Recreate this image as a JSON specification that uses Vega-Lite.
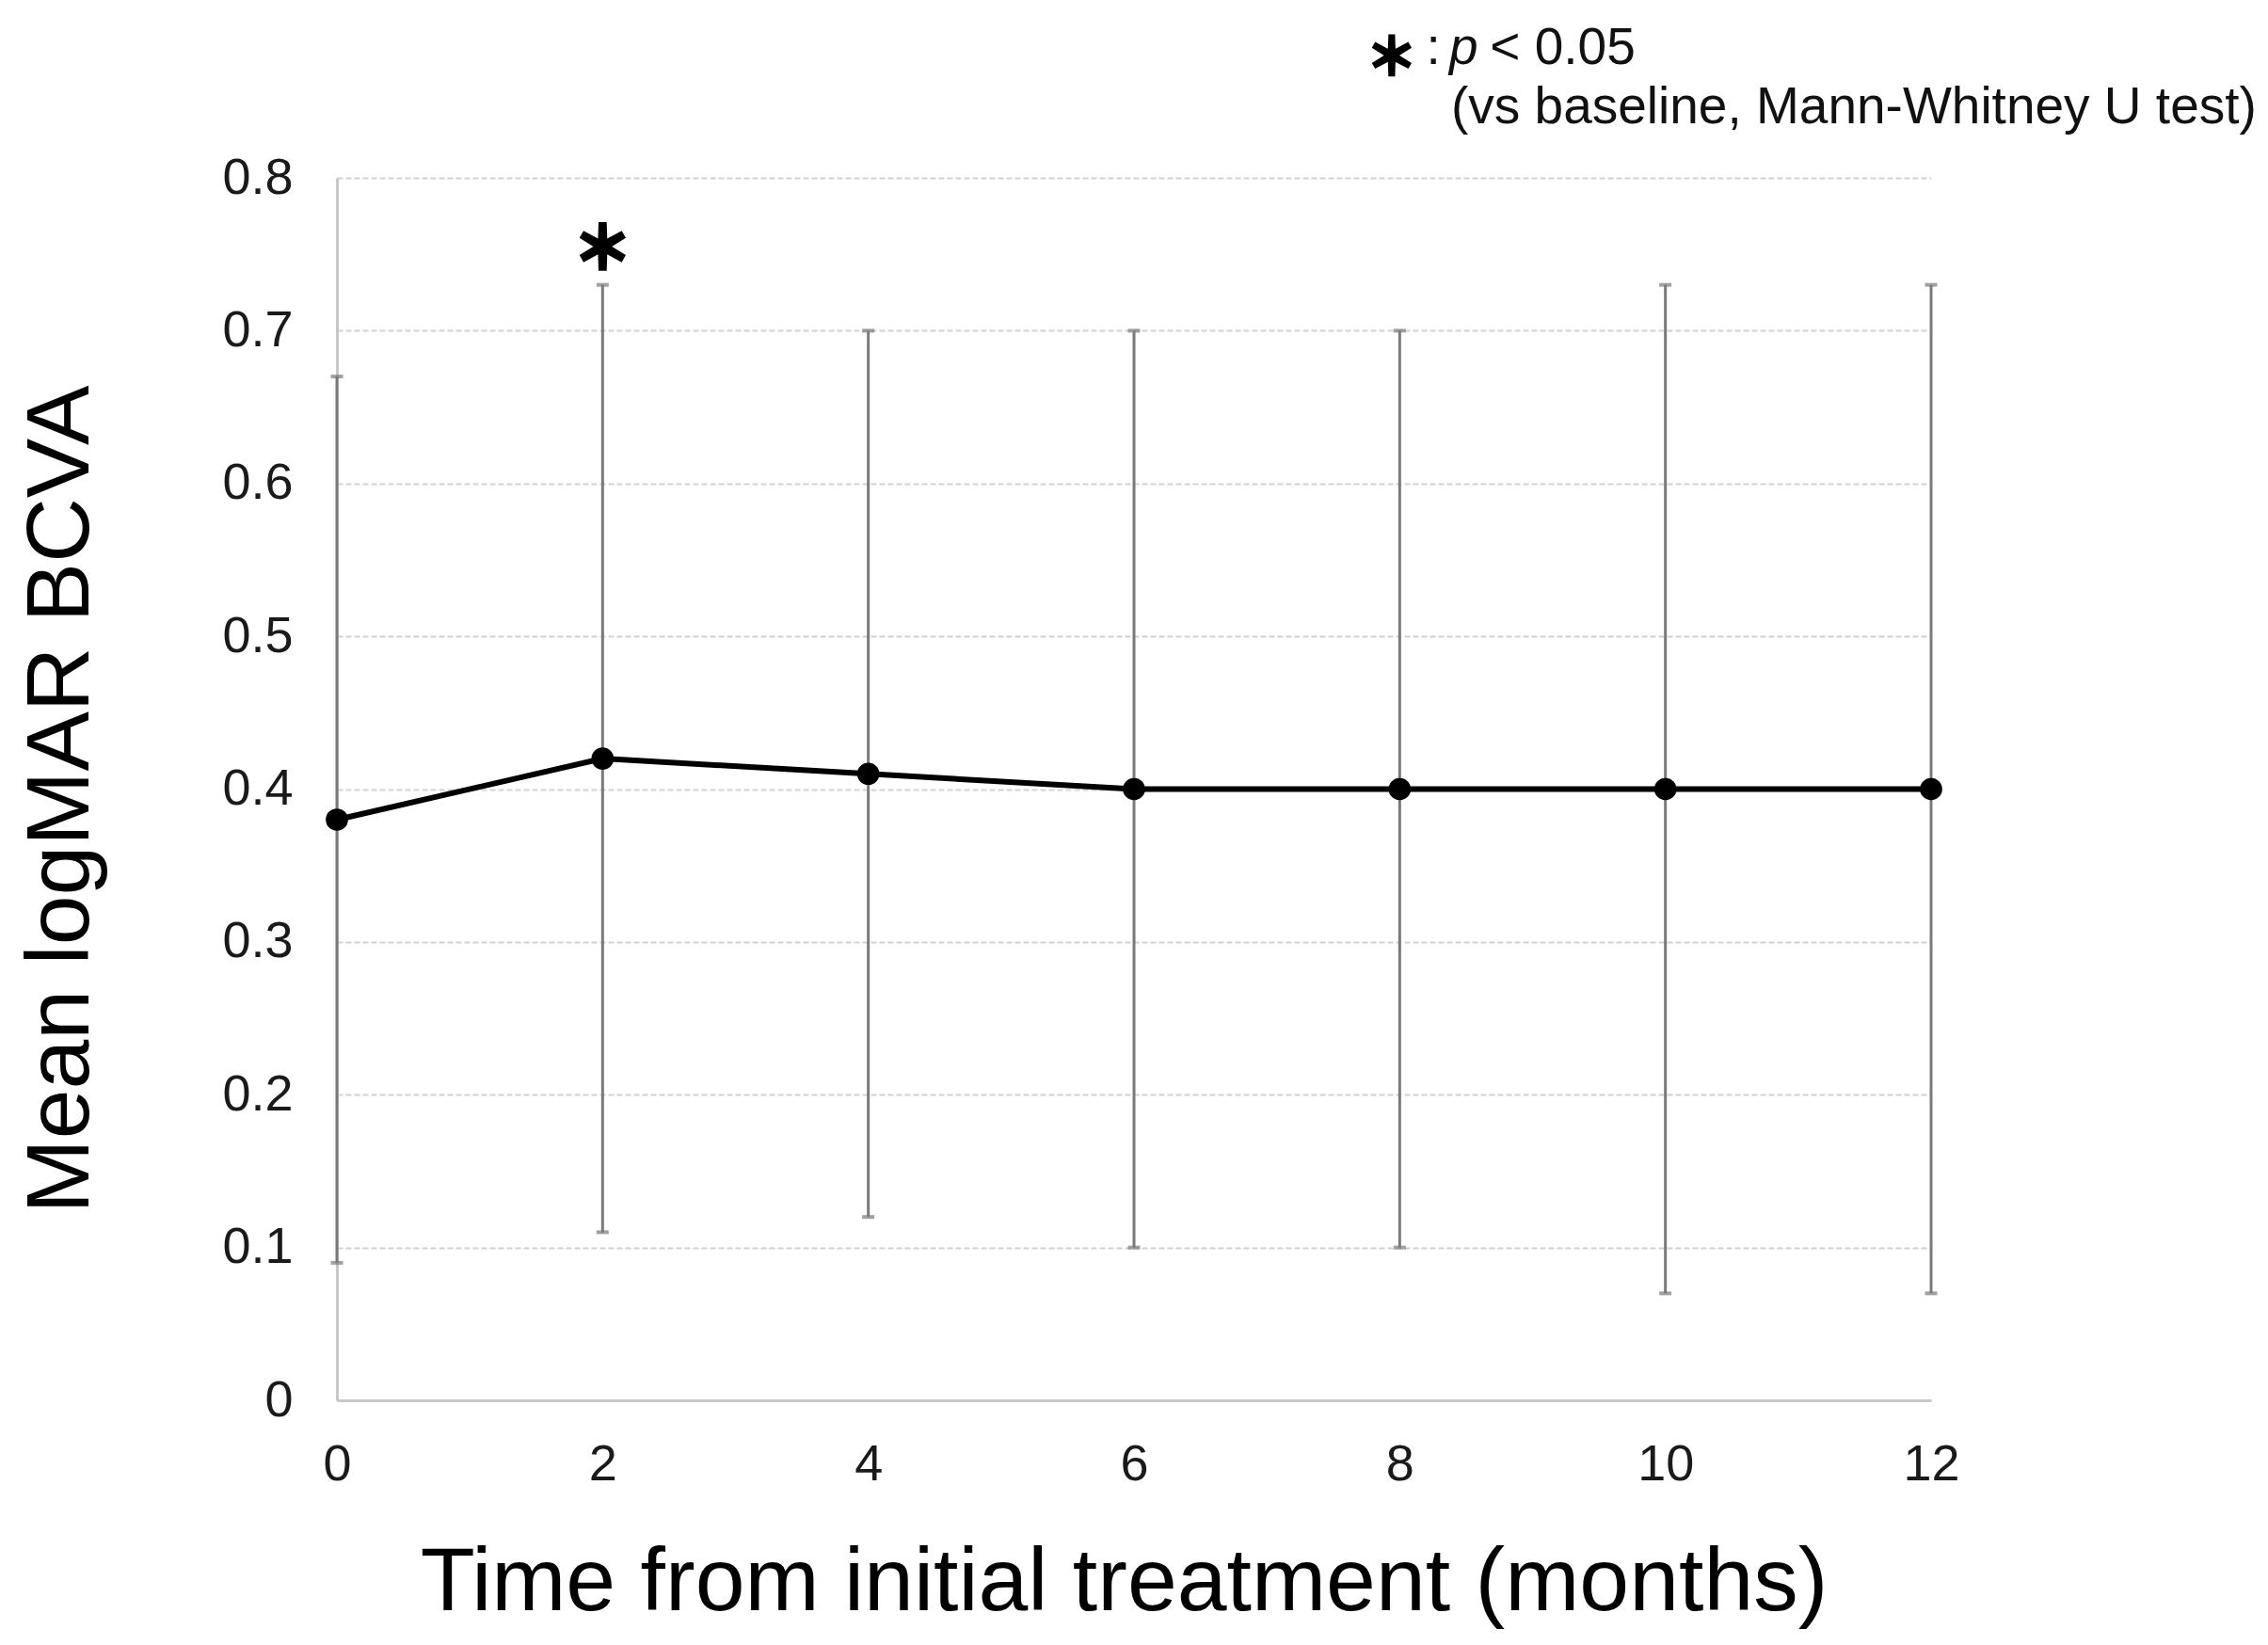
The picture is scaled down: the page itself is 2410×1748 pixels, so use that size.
{
  "$schema": "https://vega.github.io/schema/vega-lite/v6.json",
  "width": 1694,
  "height": 1299,
  "autosize": {"type": "none"},
  "padding": {"left": 358, "top": 189, "right": 358, "bottom": 260},
  "background": "white",
  "config": {"view": {"stroke": null}, "font": "Liberation Sans"},
  "datasets": {
    "bcva": [
      {"month": 0, "mean": 0.38, "lo": 0.09, "hi": 0.67},
      {"month": 2, "mean": 0.42, "lo": 0.11, "hi": 0.73},
      {"month": 4, "mean": 0.41, "lo": 0.12, "hi": 0.70},
      {"month": 6, "mean": 0.40, "lo": 0.10, "hi": 0.70},
      {"month": 8, "mean": 0.40, "lo": 0.10, "hi": 0.70},
      {"month": 10, "mean": 0.40, "lo": 0.07, "hi": 0.73},
      {"month": 12, "mean": 0.40, "lo": 0.07, "hi": 0.73}
    ],
    "sig": [{"month": 2, "y": 0.752, "label": "＊"}],
    "legendStar": [{"month": 7.94, "y": 0.877, "label": "＊"}],
    "legendPlain": [
      {"month": 8.2, "y": 0.8745, "label": ":"},
      {"month": 8.68, "y": 0.8745, "label": "< 0.05"},
      {"month": 8.387, "y": 0.8357, "label": "(vs baseline, Mann-Whitney U test)"}
    ],
    "legendItalic": [{"month": 8.373, "y": 0.8745, "label": "p"}]
  },
  "layer": [
    {
      "data": {"name": "bcva"},
      "mark": {
        "type": "errorbar",
        "rule": {"stroke": "#7a7a7a", "strokeWidth": 3},
        "ticks": {"size": 10, "stroke": "#7a7a7a", "strokeWidth": 3}
      },
      "encoding": {
        "x": {
          "field": "month",
          "type": "quantitative",
          "scale": {"domain": [0, 12], "nice": false, "zero": false},
          "axis": {
            "values": [0, 2, 4, 6, 8, 10, 12],
            "format": "d",
            "title": "Time from initial treatment (months)",
            "titleFontSize": 95,
            "titleFontWeight": "normal",
            "titleColor": "#000000",
            "titlePadding": 52,
            "titleX": 836,
            "labelFontSize": 54,
            "labelColor": "#1a1a1a",
            "labelPadding": 41,
            "labelFlush": false,
            "ticks": false,
            "tickSize": 0,
            "grid": false,
            "domain": true,
            "domainColor": "#c8c8c8",
            "domainWidth": 3
          }
        },
        "y": {
          "field": "lo",
          "type": "quantitative",
          "scale": {"domain": [0, 0.8], "nice": false},
          "axis": {
            "values": [0, 0.1, 0.2, 0.3, 0.4, 0.5, 0.6, 0.7, 0.8],
            "format": ".1~f",
            "title": "Mean logMAR BCVA",
            "titleFontSize": 95,
            "titleFontWeight": "normal",
            "titleColor": "#000000",
            "titlePadding": 122,
            "titleY": 660,
            "labelFontSize": 54,
            "labelColor": "#1a1a1a",
            "labelPadding": 47,
            "ticks": false,
            "tickSize": 0,
            "grid": true,
            "gridColor": "#d2d2d2",
            "gridDash": [6, 3],
            "gridWidth": 2,
            "domain": true,
            "domainColor": "#c8c8c8",
            "domainWidth": 3
          }
        },
        "y2": {"field": "hi"}
      }
    },
    {
      "data": {"name": "bcva"},
      "mark": {"type": "line", "color": "#000000", "strokeWidth": 6},
      "encoding": {
        "x": {"field": "month", "type": "quantitative"},
        "y": {"field": "mean", "type": "quantitative"}
      }
    },
    {
      "data": {"name": "bcva"},
      "mark": {"type": "point", "shape": "circle", "filled": true, "color": "#000000", "size": 560, "opacity": 1},
      "encoding": {
        "x": {"field": "month", "type": "quantitative"},
        "y": {"field": "mean", "type": "quantitative"}
      }
    },
    {
      "data": {"name": "sig"},
      "mark": {"type": "text", "font": "Noto Sans CJK JP", "fontSize": 62, "fontWeight": "bold", "color": "#000000", "stroke": "#000000", "strokeWidth": 4, "align": "center", "baseline": "middle"},
      "encoding": {
        "x": {"field": "month", "type": "quantitative"},
        "y": {"field": "y", "type": "quantitative"},
        "text": {"field": "label"}
      }
    },
    {
      "data": {"name": "legendStar"},
      "mark": {"type": "text", "font": "Noto Sans CJK JP", "fontSize": 54, "fontWeight": "bold", "color": "#000000", "stroke": "#000000", "strokeWidth": 3, "align": "center", "baseline": "middle"},
      "encoding": {
        "x": {"field": "month", "type": "quantitative"},
        "y": {"field": "y", "type": "quantitative"},
        "text": {"field": "label"}
      }
    },
    {
      "data": {"name": "legendPlain"},
      "mark": {"type": "text", "fontSize": 55, "color": "#111111", "align": "left", "baseline": "alphabetic"},
      "encoding": {
        "x": {"field": "month", "type": "quantitative"},
        "y": {"field": "y", "type": "quantitative"},
        "text": {"field": "label"}
      }
    },
    {
      "data": {"name": "legendItalic"},
      "mark": {"type": "text", "fontSize": 55, "fontStyle": "italic", "color": "#111111", "align": "left", "baseline": "alphabetic"},
      "encoding": {
        "x": {"field": "month", "type": "quantitative"},
        "y": {"field": "y", "type": "quantitative"},
        "text": {"field": "label"}
      }
    }
  ]
}
